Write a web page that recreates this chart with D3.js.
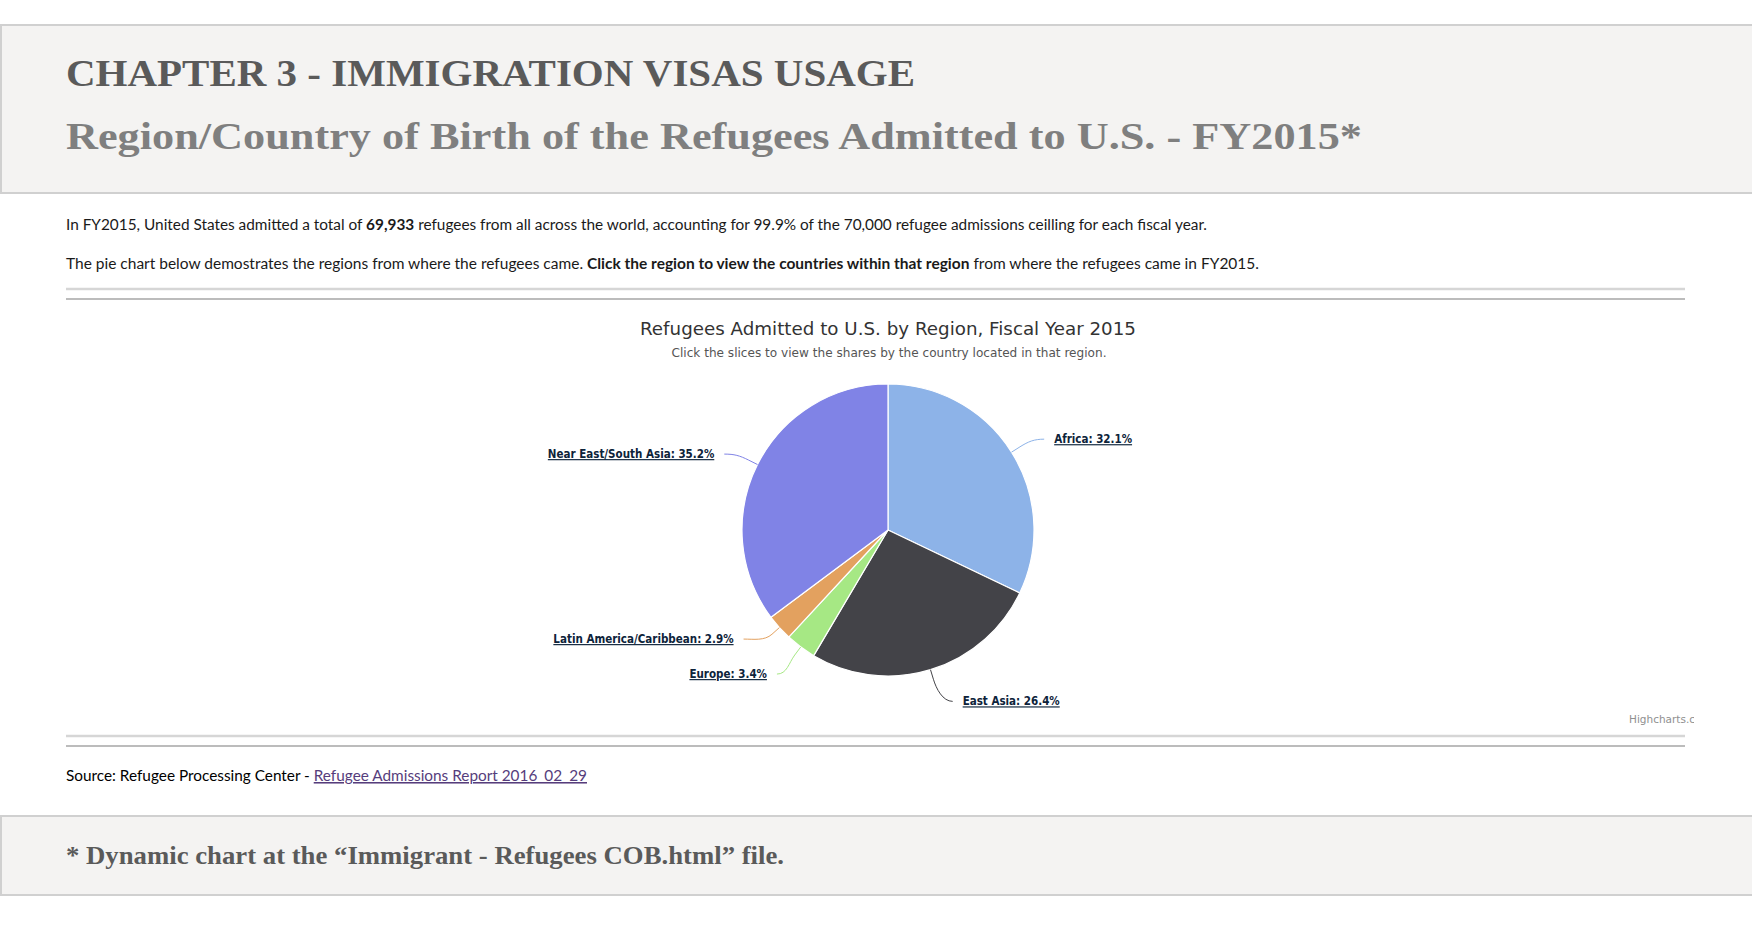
<!DOCTYPE html>
<html>
<head>
<meta charset="utf-8">
<script src="https://cdn.jsdelivr.net/npm/d3@7"></script>
<style>
  html, body { margin: 0; padding: 0; background: #fff; }
  svg { display: block; }
</style>
</head>
<body>
<svg id="page" width="1752" height="931"></svg>
<script>
// ---- data ----
const regions = ["Africa", "East Asia", "Europe", "Latin America/Caribbean", "Near East/South Asia"];
const shares  = [32.1, 26.4, 3.4, 2.9, 35.2];
const sliceColors = ["#8db3e8", "#434348", "#a6e884", "#e3a15f", "#8083e6"];

const pageTitle    = "CHAPTER 3 - IMMIGRATION VISAS USAGE";
const pageSubtitle = "Region/Country of Birth of the Refugees Admitted to U.S. - FY2015*";
const chartTitle   = "Refugees Admitted to U.S. by Region, Fiscal Year 2015";
const chartSub     = "Click the slices to view the shares by the country located in that region.";

const svg = d3.select("#page");
const SERIF = "Georgia, 'Liberation Serif', serif";
const BODY  = "Lato, 'Open Sans', sans-serif";
const HC    = "'Lucida Grande', 'DejaVu Sans', sans-serif";

// stretch a text run to the width measured on the reference
function fit(sel, w) {
  sel.attr("textLength", w).attr("lengthAdjust", "spacingAndGlyphs");
}

// ── Header band ─────────────────────────────────────────
svg.append("rect")
  .attr("x", 1).attr("y", 25).attr("width", 1770).attr("height", 168)
  .attr("fill", "#f4f3f2").attr("stroke", "#d0d0d0").attr("stroke-width", 2);

svg.append("text")
  .attr("x", 66).attr("y", 86)
  .attr("font-family", SERIF).attr("font-weight", "bold").attr("font-size", 37)
  .attr("fill", "#5a5a5a")
  .text(pageTitle)
  .call(fit, 849);

svg.append("text")
  .attr("x", 66).attr("y", 149)
  .attr("font-family", SERIF).attr("font-weight", "bold").attr("font-size", 37)
  .attr("fill", "#7f7f7f")
  .text(pageSubtitle)
  .call(fit, 1296);

// ── Intro paragraphs ────────────────────────────────────
const p1 = svg.append("text")
  .attr("x", 66).attr("y", 230)
  .attr("font-family", BODY).attr("font-size", 15.5).attr("fill", "#1a1a1a");
p1.append("tspan").text("In FY2015, United States admitted a total of ");
p1.append("tspan").attr("font-weight", "bold").text("69,933");
p1.append("tspan").text(" refugees from all across the world, accounting for 99.9% of the 70,000 refugee admissions ceilling for each fiscal year.");
fit(p1, 1141);

const p2 = svg.append("text")
  .attr("x", 66).attr("y", 269)
  .attr("font-family", BODY).attr("font-size", 15.5).attr("fill", "#1a1a1a");
p2.append("tspan").text("The pie chart below demostrates the regions from where the refugees came. ");
p2.append("tspan").attr("font-weight", "bold").text("Click the region to view the countries within that region");
p2.append("tspan").text(" from where the refugees came in FY2015.");
fit(p2, 1193);

// ── Separator rules ─────────────────────────────────────
function rules(y) {
  svg.append("line").attr("x1", 66).attr("x2", 1685).attr("y1", y).attr("y2", y)
    .attr("stroke", "#d6d6d6").attr("stroke-width", 2.5);
  svg.append("line").attr("x1", 66).attr("x2", 1685).attr("y1", y + 10).attr("y2", y + 10)
    .attr("stroke", "#a6a6a6").attr("stroke-width", 1.5);
}
rules(289);
rules(736);

// ── Chart ───────────────────────────────────────────────
const cx = 888, cy = 530, r = 146;

svg.append("text")
  .attr("x", cx).attr("y", 335).attr("text-anchor", "middle")
  .attr("font-family", HC).attr("font-size", 17.5).attr("fill", "#333333")
  .text(chartTitle)
  .call(fit, 496);

svg.append("text")
  .attr("x", cx + 1).attr("y", 357).attr("text-anchor", "middle")
  .attr("font-family", HC).attr("font-size", 11.5).attr("fill", "#555555")
  .text(chartSub)
  .call(fit, 435);

const pie = d3.pie().sort(null).value(d => d)(shares);
const arc = d3.arc().innerRadius(0).outerRadius(r);

const g = svg.append("g").attr("transform", `translate(${cx},${cy})`);

g.selectAll("path.slice")
  .data(pie)
  .join("path")
  .attr("class", "slice")
  .attr("d", arc)
  .attr("fill", (d, i) => sliceColors[i])
  .attr("stroke", "#ffffff")
  .attr("stroke-width", 1.2)
  .attr("stroke-linejoin", "round");

// label placement (Highcharts-style: outside, with soft connectors)
const distance = 30, xRadius = r + 39, gap = 35, yShift = 3;
const labels = pie.map((d, i) => {
  const a = (d.startAngle + d.endAngle) / 2;
  return {
    i, a,
    side: Math.sin(a) >= 0 ? 1 : -1,
    y: -Math.cos(a) * (r + distance) + yShift
  };
});

// push overlapping labels upward on each side
[1, -1].forEach(side => {
  const s = labels.filter(l => l.side === side).sort((p, q) => p.y - q.y);
  for (let k = s.length - 2; k >= 0; k--) {
    if (s[k].y > s[k + 1].y - gap) s[k].y = s[k + 1].y - gap;
  }
});

labels.forEach(l => {
  const dy = Math.max(-xRadius + 1, Math.min(xRadius - 1, l.y));
  l.x = l.side * Math.sqrt(xRadius * xRadius - dy * dy);
  l.ex = Math.sin(l.a) * r;          // landing point on the pie edge
  l.ey = -Math.cos(l.a) * r;
  l.bx = Math.sin(l.a) * (r + 10);   // break just outside the pie
  l.by = -Math.cos(l.a) * (r + 10);
});

g.selectAll("path.connector")
  .data(labels)
  .join("path")
  .attr("class", "connector")
  .attr("fill", "none")
  .attr("stroke", l => sliceColors[l.i])
  .attr("stroke-width", 1)
  .attr("d", l => {
    const sx = l.x - l.side * 5;
    return `M${sx},${l.y} C${sx - l.side * 10},${l.y} ${2 * l.bx - l.ex},${2 * l.by - l.ey} ${l.bx},${l.by} L${l.ex},${l.ey}`;
  });

g.selectAll("text.dlabel")
  .data(labels)
  .join("text")
  .attr("class", "dlabel")
  .attr("x", l => l.x + l.side * 5)
  .attr("y", l => l.y + 4)
  .attr("text-anchor", l => l.side > 0 ? "start" : "end")
  .attr("font-family", "'DejaVu Sans Condensed', " + HC)
  .attr("font-weight", "bold")
  .attr("font-size", 11.5)
  .attr("fill", "#0d233a")
  .style("text-decoration", "underline")
  .text(l => `${regions[l.i]}: ${shares[l.i].toFixed(1)}%`);

// credits, clipped at the container edge
svg.append("clipPath").attr("id", "chartClip")
  .append("rect").attr("x", 66).attr("y", 300).attr("width", 1628).attr("height", 430);
svg.append("text")
  .attr("clip-path", "url(#chartClip)")
  .attr("x", 1629).attr("y", 723)
  .attr("font-family", HC).attr("font-size", 10.5).attr("fill", "#909090")
  .text("Highcharts.com");

// ── Source line ─────────────────────────────────────────
const src = svg.append("text")
  .attr("x", 66).attr("y", 781)
  .attr("font-family", BODY).attr("font-size", 15.5).attr("fill", "#000");
src.append("tspan").text("Source: Refugee Processing Center - ");
src.append("tspan").attr("fill", "#563d7c").style("text-decoration", "underline")
  .text("Refugee Admissions Report 2016_02_29");
fit(src, 521);

// ── Footer band ─────────────────────────────────────────
svg.append("rect")
  .attr("x", 1).attr("y", 816).attr("width", 1770).attr("height", 79)
  .attr("fill", "#f4f3f2").attr("stroke", "#d0d0d0").attr("stroke-width", 2);

svg.append("text")
  .attr("x", 66).attr("y", 864)
  .attr("font-family", SERIF).attr("font-weight", "bold").attr("font-size", 25)
  .attr("fill", "#5a5a5a")
  .text("* Dynamic chart at the \u201cImmigrant - Refugees COB.html\u201d file.")
  .call(fit, 718);
</script>
</body>
</html>
